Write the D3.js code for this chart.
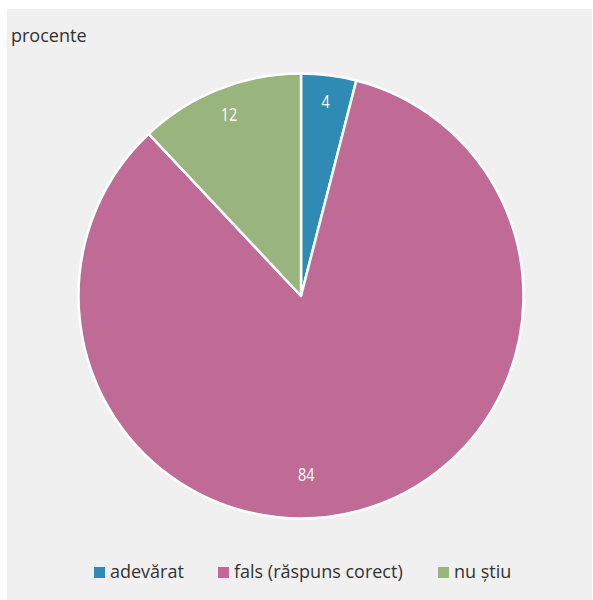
<!DOCTYPE html>
<html>
<head>
<meta charset="utf-8">
<script src="https://cdn.jsdelivr.net/npm/d3@7"></script>
<style>
  html, body { margin: 0; padding: 0; background: #ffffff; }
  svg { display: block; }
</style>
</head>
<body>
<svg id="chart" width="593" height="600"></svg>
<script>
// Answer shares, in percent
const categories = ["adevărat", "fals (răspuns corect)", "nu știu"];
const values = [4, 84, 12];
const colors = ["#308bb4", "#bf6b96", "#99b47c"];
const unitLabel = "procente";

const svg = d3.select("#chart");
const W = 593, H = 600;

// panel background
svg.append("rect")
  .attr("x", 7).attr("y", 9)
  .attr("width", 585).attr("height", H - 9)
  .attr("fill", "#f0f0f0");

svg.append("text")
  .attr("x", 11).attr("y", 42)
  .attr("font-family", "'Open Sans', 'Noto Sans', sans-serif")
  .attr("font-size", 18)
  .attr("fill", "#333")
  .text(unitLabel);

const cx = 301, cy = 296, R = 222.5;
const g = svg.append("g").attr("transform", `translate(${cx},${cy})`);

const pie = d3.pie().sort(null).value(d => d.value);
const data = categories.map((c, i) => ({ name: c, value: values[i], color: colors[i] }));
const arcs = pie(data);

const arc = d3.arc().innerRadius(0).outerRadius(R);

g.selectAll("path.slice")
  .data(arcs)
  .join("path")
  .attr("class", "slice")
  .attr("d", arc)
  .attr("fill", d => d.data.color)
  .attr("stroke", "#ffffff")
  .attr("stroke-width", 2.5)
  .attr("stroke-linejoin", "round");

// value labels inside the slices; the dominant slice gets its label near the bottom
const labelArc = d3.arc().innerRadius(R * 0.88).outerRadius(R * 0.88);
function labelPos(d) {
  const span = d.endAngle - d.startAngle;
  if (span > Math.PI) {
    const a = Math.PI - 0.03;
    const r = R * 0.8;
    return [r * Math.sin(a), -r * Math.cos(a)];
  }
  return labelArc.centroid(d);
}

// narrow numerals: regular face squeezed horizontally
g.selectAll("text.val")
  .data(arcs)
  .join("text")
  .attr("class", "val")
  .attr("transform", d => `translate(${labelPos(d)}) scale(0.78,1)`)
  .attr("text-anchor", "middle")
  .attr("dy", "0.36em")
  .attr("font-family", "'Open Sans', 'Noto Sans', sans-serif")
  .attr("font-size", 18.5)
  .attr("fill", "#ffffff")
  .text(d => d.data.value);

// legend
const legendItems = [
  { x: 94, i: 0 },
  { x: 218, i: 1 },
  { x: 438, i: 2 }
];
const lg = svg.append("g");
legendItems.forEach(({ x, i }) => {
  lg.append("rect")
    .attr("x", x).attr("y", 567)
    .attr("width", 11).attr("height", 11)
    .attr("fill", colors[i]);
  lg.append("text")
    .attr("x", x + 16).attr("y", 577.5)
    .attr("font-family", "'Open Sans', 'Noto Sans', sans-serif")
    .attr("font-size", 18)
    .attr("fill", "#333")
    .text(categories[i]);
});
</script>
</body>
</html>
